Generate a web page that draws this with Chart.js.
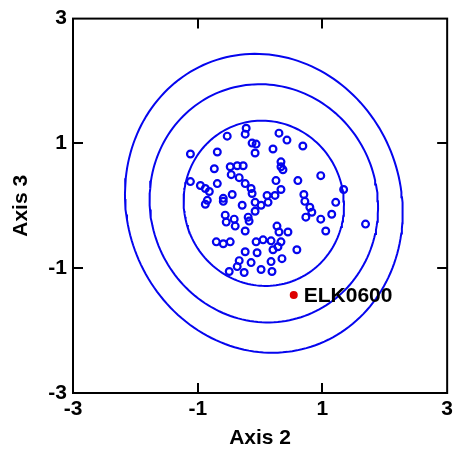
<!DOCTYPE html>
<html>
<head>
<meta charset="utf-8">
<script src="https://cdn.jsdelivr.net/npm/chart.js@4.4.1/dist/chart.umd.min.js"></script>
<style>
  html, body { margin: 0; padding: 0; background: #ffffff; }
  #wrap { width: 457px; height: 453px; }
</style>
</head>
<body>
<div id="wrap"><canvas id="c" width="457" height="453"></canvas></div>
<script>
// Ordination scores of the reference sites (Axis 2 vs Axis 3)
const axis2 = [
  -0.223, -0.239, -0.527, 0.303, 0.431, 0.686, -1.117, -0.686, -0.128, -0.064,
  -0.080, 0.207, -0.734, -0.479, -0.367, -0.271, -0.463, -0.335, 0.335, 0.335,
  0.367, -1.117, -0.957, -0.878, -0.814, -0.686, -0.239, -0.144, 0.255, 0.606,
  0.973, 1.340, -0.447, -0.590, -0.846, -0.128, 0.112, 0.239, 0.335, 0.702,
  0.718, 0.798, 0.830, 1.213, 1.149, 0.734, 0.973, 1.053, 1.691, -0.878,
  -0.590, -0.287, -0.080, 0.016, 0.128, -0.559, -0.543, -0.415, -0.399, -0.239,
  -0.191, -0.176, -0.080, 0.271, 0.303, 0.447, -0.702, -0.590, -0.479, -0.064,
  0.048, 0.176, 0.335, 0.287, 0.207, -0.048, 0.590, -0.239, 0.351, -0.335,
  -0.367, -0.495, -0.255, -0.144, 0.016, 0.176, 0.191
];
const axis3 = [
  1.243, 1.148, 1.116, 1.164, 1.053, 0.958, 0.831, 0.863, 1.005, 0.989,
  0.847, 0.910, 0.594, 0.625, 0.641, 0.641, 0.499, 0.451, 0.704, 0.625,
  0.578, 0.388, 0.325, 0.277, 0.230, 0.356, 0.356, 0.277, 0.404, 0.404,
  0.483, 0.261, 0.182, 0.119, 0.087, 0.198, 0.166, 0.166, 0.261, 0.182,
  0.071, -0.024, -0.103, 0.055, -0.135, -0.182, -0.214, -0.404, -0.293, 0.024,
  0.071, 0.008, 0.055, 0.008, 0.055, -0.150, -0.261, -0.214, -0.325, -0.404,
  -0.182, -0.245, -0.087, -0.325, -0.420, -0.420, -0.578, -0.609, -0.578, -0.578,
  -0.546, -0.562, -0.578, -0.657, -0.704, -0.752, -0.704, -0.736, -0.847, -0.879,
  -0.974, -1.053, -1.069, -0.910, -1.021, -0.894, -1.053
];

// Test site
const siteLabels = ['ELK0600'];
const siteAxis2 = [0.54];
const siteAxis3 = [-1.43];

// Axis ticks
const tickValues = [-3, -1, 1, 3];

// Probability ellipses around the reference centroid
const ellipseCenter = [0.06, 0.04];
const ellipseMajor = [1.33, 1.92, 2.42];
const ellipseMinor = [1.28, 1.82, 2.20];
const ellipseAngleDeg = 110;

function ellipsePath(a, b) {
  const phi = ellipseAngleDeg * Math.PI / 180;
  const pts = [];
  for (let d = 0; d <= 360; d += 2) {
    const t = d * Math.PI / 180;
    const u = a * Math.cos(t), v = b * Math.sin(t);
    pts.push({
      x: ellipseCenter[0] + u * Math.cos(phi) - v * Math.sin(phi),
      y: ellipseCenter[1] + u * Math.sin(phi) + v * Math.cos(phi)
    });
  }
  return pts;
}

const BLUE = '#0505ee';
const FONT = '"Liberation Sans", Arial, sans-serif';

const ellipseSets = ellipseMajor.map((a, i) => ({
  type: 'scatter',
  data: ellipsePath(a, ellipseMinor[i]),
  showLine: true,
  borderColor: BLUE,
  borderWidth: 2,
  pointRadius: 0,
  fill: false,
  tension: 0
}));

const refSet = {
  type: 'scatter',
  data: axis2.map((x, i) => ({ x: x, y: axis3[i] })),
  pointStyle: 'circle',
  pointRadius: 3.4,
  pointBorderWidth: 2.2,
  pointBorderColor: BLUE,
  pointBackgroundColor: 'rgba(255,255,255,0)',
  showLine: false
};

const siteSet = {
  type: 'scatter',
  data: siteAxis2.map((x, i) => ({ x: x, y: siteAxis3[i] })),
  pointStyle: 'circle',
  pointRadius: 4,
  pointBorderWidth: 0,
  pointBackgroundColor: '#dd0000',
  showLine: false
};

// Closed frame with short inward ticks on every side
const framePlugin = {
  id: 'frame',
  afterDraw(chart) {
    const { ctx, chartArea: a, scales: { x, y } } = chart;
    ctx.save();
    ctx.strokeStyle = '#000';
    ctx.lineWidth = 2;
    ctx.strokeRect(a.left, a.top, a.right - a.left, a.bottom - a.top);
    const len = 10;
    ctx.beginPath();
    tickValues.slice(1, -1).forEach(v => {
      const px = Math.round(x.getPixelForValue(v));
      ctx.moveTo(px, a.top); ctx.lineTo(px, a.top + len);
      ctx.moveTo(px, a.bottom); ctx.lineTo(px, a.bottom - len);
      const py = Math.round(y.getPixelForValue(v));
      ctx.moveTo(a.left, py); ctx.lineTo(a.left + len, py);
      ctx.moveTo(a.right, py); ctx.lineTo(a.right - len, py);
    });
    ctx.stroke();
    ctx.restore();
  }
};

// Name of the test site beside its marker
const siteLabelPlugin = {
  id: 'siteLabel',
  afterDatasetsDraw(chart) {
    const meta = chart.getDatasetMeta(chart.data.datasets.length - 1);
    const { ctx } = chart;
    ctx.save();
    ctx.fillStyle = '#000';
    ctx.font = 'bold 21px ' + FONT;
    ctx.textAlign = 'left';
    ctx.textBaseline = 'middle';
    meta.data.forEach((pt, i) => {
      ctx.fillText(siteLabels[i], pt.x + 10, pt.y + 1);
    });
    ctx.restore();
  }
};

const tickFont = { family: FONT, size: 21, weight: 'bold', lineHeight: 1.2 };
const titleFont = { family: FONT, size: 21, weight: 'bold', lineHeight: 1.2 };

new Chart(document.getElementById('c'), {
  type: 'scatter',
  data: { datasets: [...ellipseSets, refSet, siteSet] },
  options: {
    responsive: false,
    animation: false,
    devicePixelRatio: 1,
    layout: { autoPadding: false, padding: { top: 14, right: 8, bottom: 2, left: 0 } },
    plugins: { legend: { display: false }, tooltip: { enabled: false } },
    scales: {
      x: {
        type: 'linear',
        min: -3, max: 3,
        afterBuildTicks(s) { s.ticks = tickValues.map(v => ({ value: v })); },
        afterFit(s) { s.height = 58; },
        grid: { display: false, drawTicks: false },
        border: { display: false },
        ticks: { font: tickFont, color: '#000', padding: 4, maxRotation: 0 },
        title: { display: true, text: 'Axis 2', font: titleFont, color: '#000', padding: { top: 0, bottom: 0 } }
      },
      y: {
        type: 'linear',
        min: -3, max: 3,
        afterBuildTicks(s) { s.ticks = tickValues.map(v => ({ value: v })); },
        afterFit(s) { s.width = 73; },
        grid: { display: false, drawTicks: false },
        border: { display: false },
        ticks: { font: tickFont, color: '#000', padding: 6 },
        title: { display: true, text: 'Axis 3', font: titleFont, color: '#000', padding: { top: 9, bottom: 0 } }
      }
    }
  },
  plugins: [framePlugin, siteLabelPlugin]
});
</script>
</body>
</html>
